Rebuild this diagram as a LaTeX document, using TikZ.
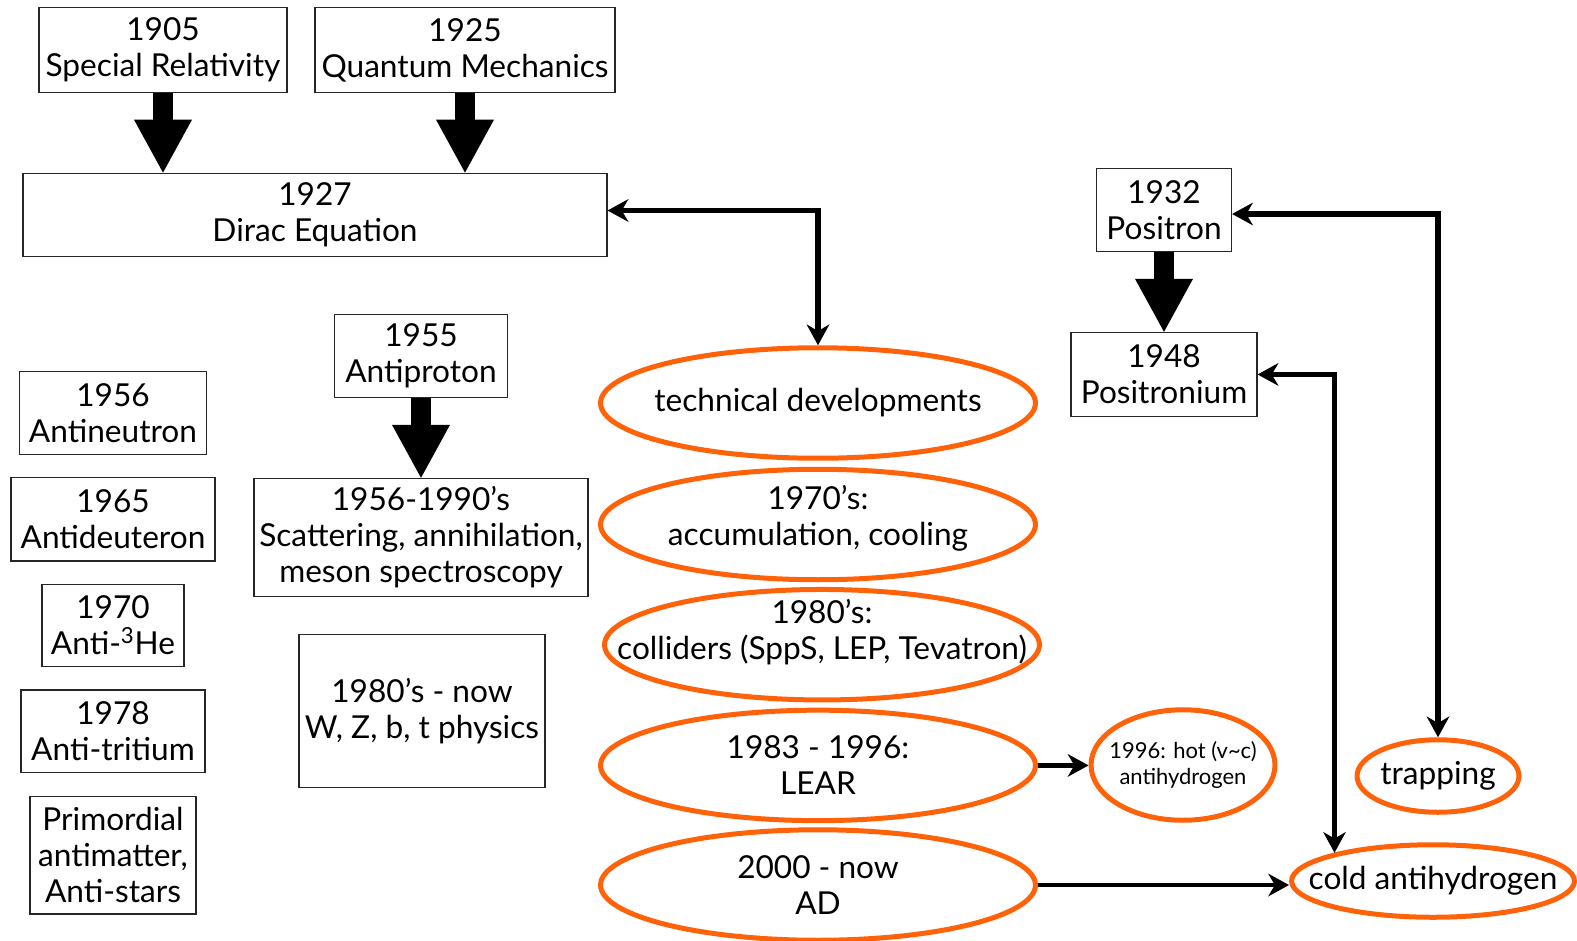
\documentclass[tikz,border=0pt]{standalone}
\usepackage{fontspec}
\setmainfont{Lato}
\usepackage{tikz}
\usetikzlibrary{arrows.meta,positioning,shapes.geometric}
\definecolor{flame}{HTML}{FF6208}

\begin{document}
\begin{tikzpicture}[
  x=0.02cm,y=-0.02cm,
  node distance=1.6cm,
  box/.style={draw=black!85,line width=0.7pt,align=center,inner sep=0pt,minimum height=1.66cm,font=\fontsize{18}{20.5}\selectfont},
  oval/.style={ellipse,draw=flame,line width=0.1cm,align=center,inner xsep=-2cm,inner ysep=-0.6cm,minimum width=8.7cm,minimum height=2.21cm,font=\fontsize{18}{20.5}\selectfont},
  bigarr/.style={line width=0.4cm,-{Triangle[width=1.16cm,length=1.06cm,line width=0pt]}},
  arr/.style={line width=0.11cm,{Stealth[length=0.42cm,width=0.46cm,line width=0pt]}-{Stealth[length=0.42cm,width=0.46cm,line width=0pt]}},
  onearr/.style={line width=0.11cm,-{Stealth[length=0.42cm,width=0.46cm,line width=0pt]}},
  thinarr/.style={line width=0.07cm,-{Stealth[length=0.42cm,width=0.46cm,line width=0pt]}}
]
\useasboundingbox (0,0) rectangle (1577,940);
\node[box,minimum width=4.96cm,minimum height=1.69cm] (sr) at (163,50) {1905\\Special Relativity};
\node[box,minimum width=6cm,minimum height=1.69cm] (qm) at (465,50) {1925\\Quantum Mechanics};
\node[box,minimum width=11.68cm,minimum height=1.67cm] (dirac) at (315,215) {1927\\Dirac Equation};
\node[box,minimum width=2.7cm,minimum height=1.65cm] (positron) at (1164,210) {1932\\Positron};
\node[box,minimum width=3.72cm,minimum height=1.68cm,below=of positron] (positronium) {1948\\Positronium};
\node[box,minimum width=3.46cm,minimum height=1.65cm] (antiproton) at (421,356) {1955\\Antiproton};
\node[box,minimum width=6.68cm,minimum height=2.36cm,below=of antiproton] (scatter) {1956-1990’s\\Scattering, annihilation,\\meson spectroscopy};
\node[box,minimum width=4.92cm,minimum height=3.06cm] (wzbt) at (422,711) {1980’s - now\\W, Z, b, t physics};
\node[box,minimum width=3.74cm,minimum height=1.65cm] (antineutron) at (113,413) {1956\\Antineutron};
\node[box,minimum width=4.08cm,minimum height=1.67cm,below=0.44cm of antineutron] (antideuteron) {1965\\Antideuteron};
\node[box,minimum width=2.84cm,minimum height=1.65cm,below=0.44cm of antideuteron] (antihe) {1970\\Anti-\textsuperscript{3}He};
\node[box,minimum width=3.68cm,minimum height=1.65cm,below=0.44cm of antihe] (antitritium) {1978\\Anti-tritium};
\node[box,minimum width=3.32cm,minimum height=2.35cm,below=0.46cm of antitritium] (primordial) {Primordial\\antimatter,\\Anti-stars};
\node[oval] (techdev) at (818,403) {technical developments};
\node[oval,text depth=0.35cm] (seventies) at (818,524.5) {1970’s:\\accumulation, cooling};
\node[oval,text depth=0.6cm] (eighties) at (822,644.7) {1980’s:\\colliders (SppS, LEP, Tevatron)};
\node[oval] (lear) at (818,765.4) {1983 - 1996:\\LEAR};
\node[oval] (ad) at (818,885) {2000 - now\\AD};
\node[oval,minimum width=3.68cm,minimum height=2.21cm,font=\fontsize{12.5}{14.5}\selectfont] (hot) at (1183,765) {1996: hot (v\textasciitilde c)\\antihydrogen};
\node[oval,minimum width=3.24cm,minimum height=1.45cm] (trap) at (1438,776) {trapping};
\node[oval,minimum width=5.66cm,minimum height=1.45cm] (cold) at (1433,881) {cold antihydrogen};
\draw[bigarr] (sr.south) -- (sr.south |- dirac.north);
\draw[bigarr] (qm.south) -- (qm.south |- dirac.north);
\draw[bigarr] (positron.south) -- (positron.south |- positronium.north);
\draw[bigarr] (antiproton.south) -- (scatter.north);
\draw[arr] ([yshift=0.09cm]dirac.east) -| (techdev.north);
\draw[arr] ([yshift=-0.08cm]positron.east) -| (trap.north);
\draw[arr] (positronium.east) -| (cold.164);
\draw[onearr] (lear.east) -- (lear.east -| hot.west);
\draw[thinarr] (ad.east) -- (ad.east -| cold.west);
\end{tikzpicture}
\end{document}
